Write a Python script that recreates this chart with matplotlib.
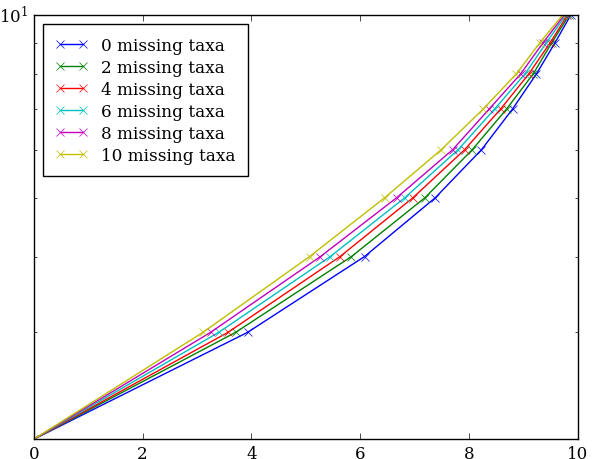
import matplotlib
matplotlib.use("Agg")
import matplotlib.pyplot as plt

plt.style.use("classic")
plt.rcParams["font.family"] = "serif"
plt.rcParams["font.serif"] = ["DejaVu Serif"]
plt.rcParams["mathtext.fontset"] = "dejavuserif"

# niveis no eixo y (log)
niveis = [2, 3, 4, 5, 6, 7, 8, 9, 10]

# posicao x de cada ponto, por numero de taxa faltando
x_0 = [0, 3.93, 6.08, 7.38, 8.23, 8.80, 9.24, 9.58, 9.87]
x_2 = [0, 3.71, 5.84, 7.19, 8.06, 8.69, 9.18, 9.52, 9.84]
x_4 = [0, 3.57, 5.63, 6.97, 7.92, 8.58, 9.10, 9.49, 9.81]
x_6 = [0, 3.40, 5.45, 6.82, 7.80, 8.47, 9.03, 9.42, 9.78]
x_8 = [0, 3.25, 5.27, 6.67, 7.70, 8.37, 8.95, 9.36, 9.75]
x_10 = [0, 3.11, 5.07, 6.45, 7.49, 8.26, 8.87, 9.30, 9.72]

series = [x_0, x_2, x_4, x_6, x_8, x_10]
rotulos = ["0 missing taxa", "2 missing taxa", "4 missing taxa",
           "6 missing taxa", "8 missing taxa", "10 missing taxa"]
cores = ["b", "g", "r", "c", "m", "y"]

fig = plt.figure(figsize=(5.92, 4.6), dpi=100)
ax = fig.add_axes([0.057, 0.043, 0.919, 0.922])

for xs, rot, cor in zip(series, rotulos, cores):
    ax.plot(xs, niveis, "x-", color=cor, label=rot)

ax.set_yscale("log")
ax.set_xlim(0, 10)
ax.set_ylim(2, 10)
ax.legend(loc="upper left", fontsize=12.2, borderpad=0.72, labelspacing=0.3,
          handlelength=1.95, handletextpad=0.75, borderaxespad=0.55)

fig.savefig("out.png", dpi=100)
